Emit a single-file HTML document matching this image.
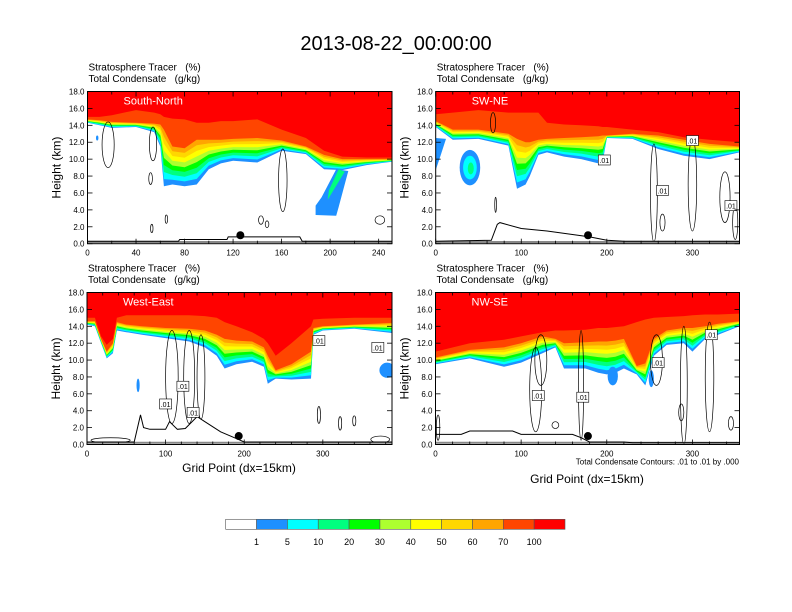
<!DOCTYPE html>
<html><head><meta charset="utf-8">
<style>
html,body{margin:0;padding:0;background:#fff;}
svg{display:block;font-family:"Liberation Sans",sans-serif;}
text{white-space:pre;}
</style></head>
<body>
<svg id="fig" width="792" height="612" viewBox="0 0 792 612" xmlns="http://www.w3.org/2000/svg">
<text x="396" y="50" font-size="20" text-anchor="middle">2013-08-22_00:00:00</text>
</svg>
<script>
// ---- colour scale ----
const levelLabels = ["1","5","10","20","30","40","50","60","70","100"];
const levelColors = ["#ffffff","#1e90ff","#00ffff","#00ff7f","#00ff00","#adff2f","#ffff00","#ffd700","#ffa500","#ff4500","#ff0000"];
const panelNames = ["South-North","SW-NE","West-East","NW-SE"];
const xMaxes = [251,355,388,355];
const xTicks = [[0,40,80,120,160,200,240],[0,100,200,300],[0,100,200,300],[0,100,200,300]];
const yTicks = [0,2,4,6,8,10,12,14,16,18];
// ---- per-column level heights (km): 1% base, 70% base, 100% base ----
const gp1 = [0,10,20,40,55,60,63,70,80,90,100,110,120,140,160,180,195,210,230,251];
const b1_1 = [14.3,14.0,13.7,13.8,13.2,11.5,6.8,7.0,6.8,7.0,8.8,9.5,9.8,9.6,11.0,10.6,8.8,8.7,9.3,9.7];
const b70_1 = [14.7,14.6,14.4,14.3,14.2,14.1,13.5,11.5,11.3,12.3,12.3,12.3,12.4,12.5,12.2,11.5,10.5,10.0,10.0,10.0];
const b100_1 = [15.0,15.0,15.2,15.8,15.5,15.3,15.0,14.8,14.7,14.3,14.3,14.5,14.5,14.7,13.5,12.5,11.0,10.3,10.2,10.2];
const gp2 = [0,20,50,85,95,105,110,120,130,150,170,190,195,200,230,260,290,320,355];
const b1_2 = [13.8,12.3,12.4,11.6,6.5,7.0,8.0,10.5,10.8,10.3,10.0,9.5,9.6,12.5,12.4,11.2,10.4,10.0,10.8];
const b70_2 = [14.5,13.5,13.5,13.0,12.4,12.0,12.0,12.3,12.4,12.5,12.6,12.7,12.8,12.8,13.0,12.8,12.3,11.8,11.5];
const b100_2 = [15.3,15.5,15.8,15.5,15.5,15.5,15.5,15.5,14.3,14.1,14.0,13.9,13.8,13.8,13.5,13.2,12.6,12.3,12.0];
const gp3 = [0,10,18,25,33,38,50,70,100,130,150,165,175,190,210,225,230,240,260,285,288,300,340,388];
const b1_3 = [14.2,14.0,12.0,10.2,10.8,13.5,13.3,13.0,12.6,12.2,11.5,10.5,9.0,9.5,9.8,9.2,7.2,7.8,7.7,7.8,13.0,13.5,13.7,13.2];
const b70_3 = [14.6,14.6,12.5,11.0,12.0,14.5,14.2,14.0,13.8,13.7,13.5,13.0,12.5,12.3,12.2,11.5,10.5,8.8,9.5,11.0,13.8,14.0,14.2,14.4];
const b100_3 = [15.0,15.0,12.8,11.8,12.5,15.0,15.3,15.3,15.3,15.3,15.2,15.0,14.5,14.0,13.3,12.5,12.0,10.5,12.0,14.0,14.8,14.9,15.0,15.0];
const gp4 = [0,40,80,100,125,140,150,175,190,200,210,220,235,245,255,270,290,300,315,330,355];
const b1_4 = [9.5,10.2,9.2,9.7,10.8,11.5,9.0,9.0,8.5,8.3,8.5,9.0,8.3,7.0,10.5,11.8,12.0,11.0,12.5,13.0,14.0];
const b70_4 = [10.3,11.2,11.5,12.0,12.8,12.5,12.0,12.1,12.2,12.2,12.3,12.5,9.3,9.6,12.5,13.5,13.8,13.8,14.0,14.3,14.6];
const b100_4 = [11.0,12.0,12.4,12.8,13.3,13.5,13.5,13.6,13.8,13.8,13.9,14.0,14.5,14.8,15.0,15.1,15.2,15.3,15.4,15.4,15.5];
// ---- detached shaded blobs: [panel, gp, km, rxGp, ryKm, colourIndex] ----
const blobEllipses = [[0,8,12.5,1,0.3,1],[1,40,9,12,2.1,1],[1,40,9,8,1.4,2],[1,41,8.9,3.5,0.7,3],
  [2,65,7,2,0.8,1],[2,382,8.8,10,0.9,1],[3,207,8.1,6,1.1,1],[3,252,7.8,3,1,1]];
const blobPolys = [[0,1,[[188,3.4],[205,3.3],[207,4.3],[215,8.6],[205,8.8],[193,5.5],[188,4.5]]],
  [0,3,[[198,5.2],[212,8.5],[207,8.8],[199,6.3]]],
  [1,1,[[0,8.7],[0,12.5],[12,12.4],[6,10.5]]]];
// ---- condensate contour loops: [panel, gp, km, rxGp, ryKm] ----
const loops = [[0,17,11.7,5,2.7],[0,54,11.8,3,2],[0,161,7.5,3.5,3.7],[0,52,7.7,1.5,0.7],[0,241,2.8,4,0.5],[0,143,2.8,2,0.5],[0,148,2.3,1.5,0.4],[0,65,2.9,1,0.5],[0,53,1.8,1,0.5],
 [1,67,14.3,3,1.2],[1,70,4.6,1,0.9],[1,255,6,4,5.8],[1,300,7,5,5.5],[1,338,5.5,6,3],[1,265,2.5,3,1],[1,350,2.5,3,2],
 [2,108,8,8,5.5],[2,130,8,7,5.5],[2,145,8,5,5],[2,295,3.5,2,1],[2,322,2.5,2,0.8],[2,340,2.8,2,0.6],[2,373,0.6,12,0.4],[2,30,0.5,25,0.3],
 [3,117,6.5,7,5],[3,170,7,3,6.5],[3,123,10,7,3],[3,258,10,7,3],[3,290,7,4,7],[3,320,8,5,6.5],[3,287,3.8,3,1],[3,140,2.3,4,0.4],[3,3,2,2,1.5],[3,345,2.5,3,0.8]];
// ---- terrain profiles (km) ----
const terrGp = [[0,75,76,115,116,175,177,251],[0,65,72,75,100,130,180,200,220,355],[0,60,68,72,80,100,105,115,125,140,150,170,190,200,388],[0,30,40,90,100,160,170,180,220,230,355]];
const terrKm = [[0.3,0.3,0.5,0.5,0.8,0.8,0.3,0.3],[0.3,0.4,2.3,2.5,1.8,1.5,0.8,0.4,0.3,0.3],[0.3,0.3,3.5,2.0,1.8,1.8,2.7,1.8,1.9,3.3,2.7,1.5,0.7,0.3,0.3],[1.2,1.2,1.6,1.6,1.2,1.2,0.8,0.3,0.3,0.2,0.2]];
const dotGp = [126,178,193,178];
const dotKm = [1.0,1.0,1.0,1.0];
// ---- contour labels: [panel, gp, km] ----
const cLabels = [[1,197,9.9],[1,265,6.3],[1,345,4.5],[1,300,12.2],[2,100,4.8],[2,122,6.9],[2,135,3.8],[2,295,12.3],[2,370,11.5],[3,120,5.8],[3,172,5.6],[3,260,9.7],[3,322,13]];

const colGp=[gp1,gp2,gp3,gp4], colB1=[b1_1,b1_2,b1_3,b1_4], colB70=[b70_1,b70_2,b70_3,b70_4], colB100=[b100_1,b100_2,b100_3,b100_4];
const panels=[{x0:87.5,x1:392,y0:91.5,y1:243.7},{x0:435.7,x1:739.5,y0:91.5,y1:243.7},{x0:87,x1:392,y0:292.5,y1:444.5},{x0:435.5,x1:739.5,y0:292.5,y1:444.5}];
const NS="http://www.w3.org/2000/svg";
const svg=document.getElementById('fig');
function mk(tag,attrs,parent){const e=document.createElementNS(NS,tag);for(const k in attrs)e.setAttribute(k,attrs[k]);(parent||svg).appendChild(e);return e;}
function sx(p,g){const P=panels[p];return P.x0+g/xMaxes[p]*(P.x1-P.x0);}
function sy(p,k){const P=panels[p];return P.y1-k/18*(P.y1-P.y0);}

const defs=mk('defs',{});
panels.forEach((P,p)=>{
  const cp=mk('clipPath',{id:'clip'+p},defs);
  mk('rect',{x:P.x0,y:P.y0,width:P.x1-P.x0,height:P.y1-P.y0},cp);
  const g=mk('g',{'clip-path':'url(#clip'+p+')'});
  
  
  const gps=colGp[p];
  for(let lev=0;lev<10;lev++){
    let pts=[];
    gps.forEach((gv,i)=>{
      let h;
      if(lev<=8) h=colB1[p][i]+(colB70[p][i]-colB1[p][i])*lev/8;
      else h=colB100[p][i];
      pts.push(sx(p,gv).toFixed(1)+','+sy(p,h).toFixed(1));
    });
    pts.push(sx(p,xMaxes[p])+','+sy(p,18.5));
    pts.push(sx(p,0)+','+sy(p,18.5));
    const poly=mk('polygon',{points:pts.join(' '),fill:levelColors[lev+1]},g);
    
    
  }
  blobPolys.filter(b=>b[0]===p).forEach(b=>{
    const e=mk('polygon',{points:b[2].map(q=>sx(p,q[0]).toFixed(1)+','+sy(p,q[1]).toFixed(1)).join(' '),fill:levelColors[b[1]]},g);
    
    
  });
  blobEllipses.filter(b=>b[0]===p).forEach(b=>{
    const e=mk('ellipse',{cx:sx(p,b[1]),cy:sy(p,b[2]),rx:b[3]/xMaxes[p]*(P.x1-P.x0),ry:b[4]/18*(P.y1-P.y0),fill:levelColors[b[5]]},g);
    
    
  });
  loops.filter(b=>b[0]===p).forEach(b=>{
    const e=mk('ellipse',{cx:sx(p,b[1]),cy:sy(p,b[2]),rx:b[3]/xMaxes[p]*(P.x1-P.x0),ry:b[4]/18*(P.y1-P.y0),fill:'none',stroke:'#000','stroke-width':0.7},g);
    
    
  });
  const gl=mk('line',{x1:P.x0,x2:P.x1,y1:sy(p,0.2),y2:sy(p,0.2),stroke:'#888','stroke-width':2},g);
  
  
  const tl=mk('polyline',{points:terrGp[p].map((gv,i)=>sx(p,gv).toFixed(1)+','+sy(p,terrKm[p][i]).toFixed(1)).join(' '),fill:'none',stroke:'#000','stroke-width':1},g);
  
  
  const dot=mk('circle',{cx:sx(p,dotGp[p]),cy:sy(p,dotKm[p]),r:4,fill:'#000'},g);
  
  
  cLabels.filter(c=>c[0]===p).forEach(c=>{
    const x=sx(p,c[1]),y=sy(p,c[2]);
    const r=mk('rect',{x:x-6,y:y-5,width:12,height:10,fill:'#fff',stroke:'#000','stroke-width':0.6},g);
    
    
    const t=mk('text',{x:x,y:y+3,'font-size':7,'text-anchor':'middle'},g);
    t.textContent='.01';
    
    
  });
  const nm=mk('text',{x:P.x0+36,y:P.y0+13,'font-size':11,fill:'#fff'});
  nm.textContent=panelNames[p];
  
  
  const fr=mk('rect',{x:P.x0,y:P.y0,width:P.x1-P.x0,height:P.y1-P.y0,fill:'none',stroke:'#000','stroke-width':1});
  
  
  yTicks.forEach(v=>{
    const y=sy(p,v);
    mk('line',{x1:P.x0,x2:P.x0+5,y1:y,y2:y,stroke:'#000','stroke-width':0.8});
    mk('line',{x1:P.x1,x2:P.x1-5,y1:y,y2:y,stroke:'#000','stroke-width':0.8});
    const t=mk('text',{x:P.x0-3,y:y+3,'font-size':8,'text-anchor':'end'});
    t.textContent=v.toFixed(1);
    
    
  });
  for(let v=0;v<=xMaxes[p];v+=20){
    const x=sx(p,v);const major=xTicks[p].includes(v);const L=major?5:3;
    mk('line',{x1:x,x2:x,y1:P.y1,y2:P.y1-L,stroke:'#000','stroke-width':0.8});
    mk('line',{x1:x,x2:x,y1:P.y0,y2:P.y0+L,stroke:'#000','stroke-width':0.8});
  }
  xTicks[p].forEach(v=>{
    const t=mk('text',{x:sx(p,v),y:P.y1+12,'font-size':8,'text-anchor':'middle'});
    t.textContent=v;
    
    
  });
  const h1=mk('text',{x:P.x0+1,y:P.y0-21,'font-size':10,'xml:space':'preserve'});
  h1.textContent='Stratosphere Tracer   (%)';
  
  
  const h2=mk('text',{x:P.x0+1,y:P.y0-9.5,'font-size':10,'xml:space':'preserve'});
  h2.textContent='Total Condensate   (g/kg)';
  
  
  const yl=mk('text',{x:0,y:0,'font-size':12,'text-anchor':'middle',transform:'translate('+(P.x0-27)+','+((P.y0+P.y1)/2)+') rotate(-90)'});
  yl.textContent='Height (km)';
  
  
});
const xt1=mk('text',{x:239,y:472,'font-size':12,'text-anchor':'middle'});
xt1.textContent='Grid Point (dx=15km)';


const xt2=mk('text',{x:587,y:483,'font-size':12,'text-anchor':'middle'});
xt2.textContent='Grid Point (dx=15km)';


const ci=mk('text',{x:739,y:464.5,'font-size':8,'text-anchor':'end'});
ci.textContent='Total Condensate Contours: .01 to .01 by .000';


const cbX=225.7,cbW=(565-225.7)/levelColors.length;
levelColors.forEach((c,i)=>{
  const r=mk('rect',{x:cbX+i*cbW,y:519.3,width:cbW,height:10,fill:c,stroke:'#555','stroke-width':0.6});
  
  
});
levelLabels.forEach((l,i)=>{
  const t=mk('text',{x:cbX+(i+1)*cbW,y:545,'font-size':9,'text-anchor':'middle'});
  t.textContent=l;
  
  
});
</script>
</body></html>
